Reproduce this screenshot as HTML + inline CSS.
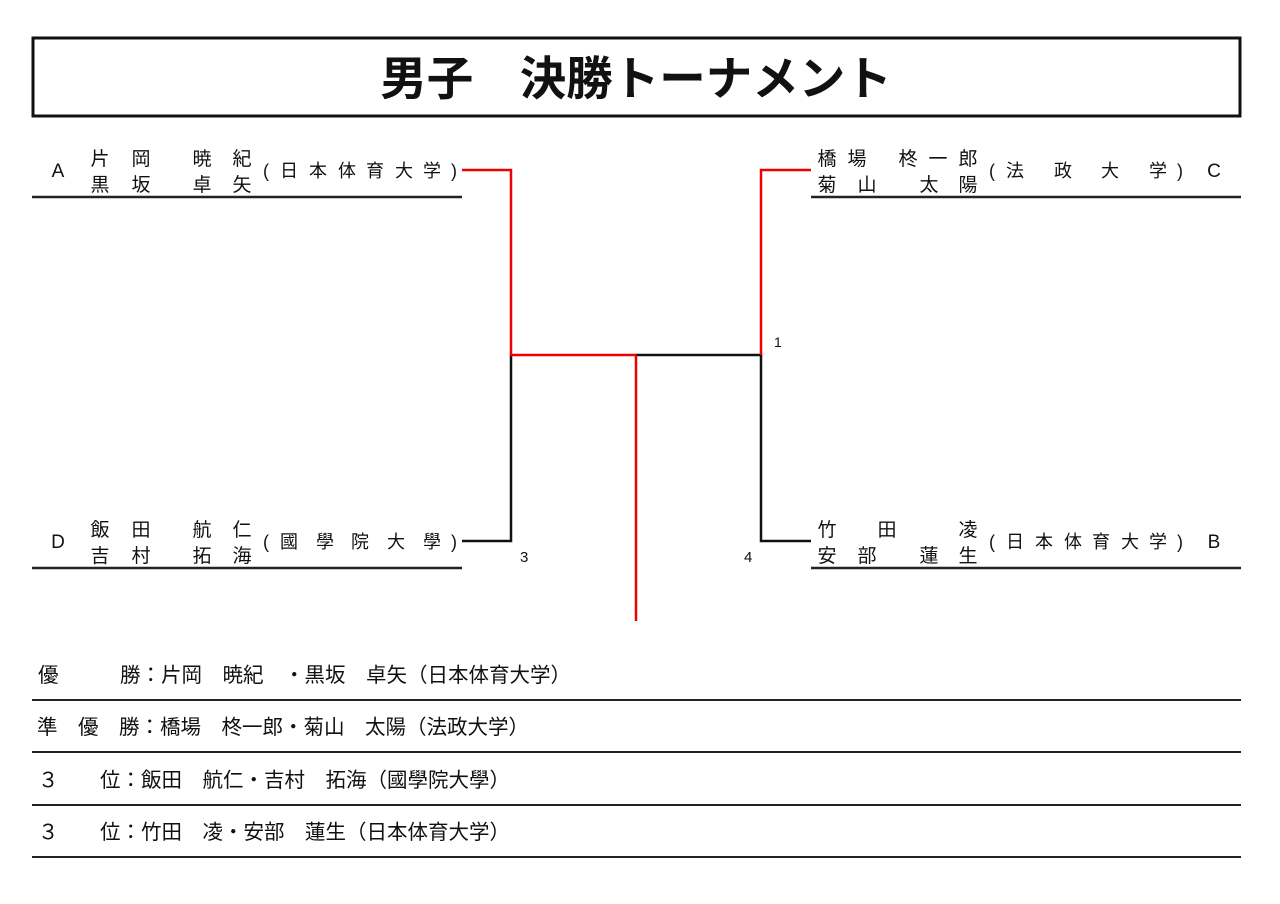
<!DOCTYPE html>
<html><head><meta charset="utf-8"><style>
html,body{margin:0;padding:0;background:#fff;}
svg{display:block;}
text{font-family:"Liberation Sans","Noto Sans CJK JP",sans-serif;fill:#111;}
.n{font-size:19px;text-anchor:middle;}
.s{font-size:18px;text-anchor:middle;}
.r{font-size:20.5px;}
</style></head><body>
<svg width="1280" height="904" viewBox="0 0 1280 904">
<rect x="33" y="38" width="1207" height="78" fill="none" stroke="#111" stroke-width="3"/>
<text x="636" y="95" style="font-size:46.5px;font-weight:bold;text-anchor:middle;font-family:'Noto Sans CJK JP',sans-serif">男子　決勝トーナメント</text>

<g stroke-width="2.5" fill="none">
<line x1="32" y1="197" x2="462" y2="197" stroke="#222"/>
<line x1="32" y1="568" x2="462" y2="568" stroke="#222"/>
<line x1="811" y1="197" x2="1241" y2="197" stroke="#222"/>
<line x1="811" y1="568" x2="1241" y2="568" stroke="#222"/>
<polyline points="462,541 511,541 511,355" stroke="#111"/>
<polyline points="811,541 761,541 761,355 636,355" stroke="#111"/>
<polyline points="462,170 511,170 511,355 636,355" stroke="#e00"/>
<polyline points="811,170 761,170 761,355" stroke="#e00"/>
<line x1="636" y1="355" x2="636" y2="621" stroke="#e00"/>
</g>
<text x="774" y="347" style="font-size:14px">1</text>
<text x="520" y="562" style="font-size:15px">3</text>
<text x="744" y="562" style="font-size:15px">4</text>

<text x="58" y="177" class="n">A</text>
<text class="n" y="165"><tspan x="100">片</tspan><tspan x="141">岡</tspan><tspan x="202">暁</tspan><tspan x="242">紀</tspan></text>
<text class="n" y="191"><tspan x="100">黒</tspan><tspan x="141">坂</tspan><tspan x="202">卓</tspan><tspan x="242">矢</tspan></text>
<text class="s" y="177"><tspan x="266">(</tspan><tspan x="289">日</tspan><tspan x="318">本</tspan><tspan x="347">体</tspan><tspan x="375">育</tspan><tspan x="404">大</tspan><tspan x="432">学</tspan><tspan x="454">)</tspan></text>

<text x="58" y="548" class="n">D</text>
<text class="n" y="536"><tspan x="100">飯</tspan><tspan x="141">田</tspan><tspan x="202">航</tspan><tspan x="242">仁</tspan></text>
<text class="n" y="562"><tspan x="100">吉</tspan><tspan x="141">村</tspan><tspan x="202">拓</tspan><tspan x="242">海</tspan></text>
<text class="s" y="548"><tspan x="266">(</tspan><tspan x="289">國</tspan><tspan x="325">學</tspan><tspan x="360">院</tspan><tspan x="396">大</tspan><tspan x="432">學</tspan><tspan x="454">)</tspan></text>

<text class="n" y="165"><tspan x="827">橋</tspan><tspan x="857">場</tspan><tspan x="908">柊</tspan><tspan x="938">一</tspan><tspan x="968">郎</tspan></text>
<text class="n" y="191"><tspan x="827">菊</tspan><tspan x="867">山</tspan><tspan x="929">太</tspan><tspan x="968">陽</tspan></text>
<text class="s" y="177"><tspan x="992">(</tspan><tspan x="1015">法</tspan><tspan x="1063">政</tspan><tspan x="1110">大</tspan><tspan x="1158">学</tspan><tspan x="1180">)</tspan></text>
<text x="1214" y="177" class="n">C</text>

<text class="n" y="536"><tspan x="827">竹</tspan><tspan x="887">田</tspan><tspan x="968">凌</tspan></text>
<text class="n" y="562"><tspan x="827">安</tspan><tspan x="867">部</tspan><tspan x="929">蓮</tspan><tspan x="968">生</tspan></text>
<text class="s" y="548"><tspan x="992">(</tspan><tspan x="1015">日</tspan><tspan x="1044">本</tspan><tspan x="1073">体</tspan><tspan x="1101">育</tspan><tspan x="1130">大</tspan><tspan x="1158">学</tspan><tspan x="1180">)</tspan></text>
<text x="1214" y="548" class="n">B</text>

<g stroke="#222" stroke-width="2">
<line x1="32" y1="700" x2="1241" y2="700"/>
<line x1="32" y1="752" x2="1241" y2="752"/>
<line x1="32" y1="805" x2="1241" y2="805"/>
<line x1="32" y1="857" x2="1241" y2="857"/>
</g>
<text class="r" x="38" y="682">優</text>
<text class="r" x="120" y="682">勝：片岡　暁紀　・黒坂　卓矢（日本体育大学）</text>
<text class="r" x="37" y="734">準　優　勝：橋場　柊一郎・菊山　太陽（法政大学）</text>
<text class="r" x="38" y="787">３</text>
<text class="r" x="100" y="787">位：飯田　航仁・吉村　拓海（國學院大學）</text>
<text class="r" x="38" y="839">３</text>
<text class="r" x="100" y="839">位：竹田　凌・安部　蓮生（日本体育大学）</text>
</svg>
</body></html>
